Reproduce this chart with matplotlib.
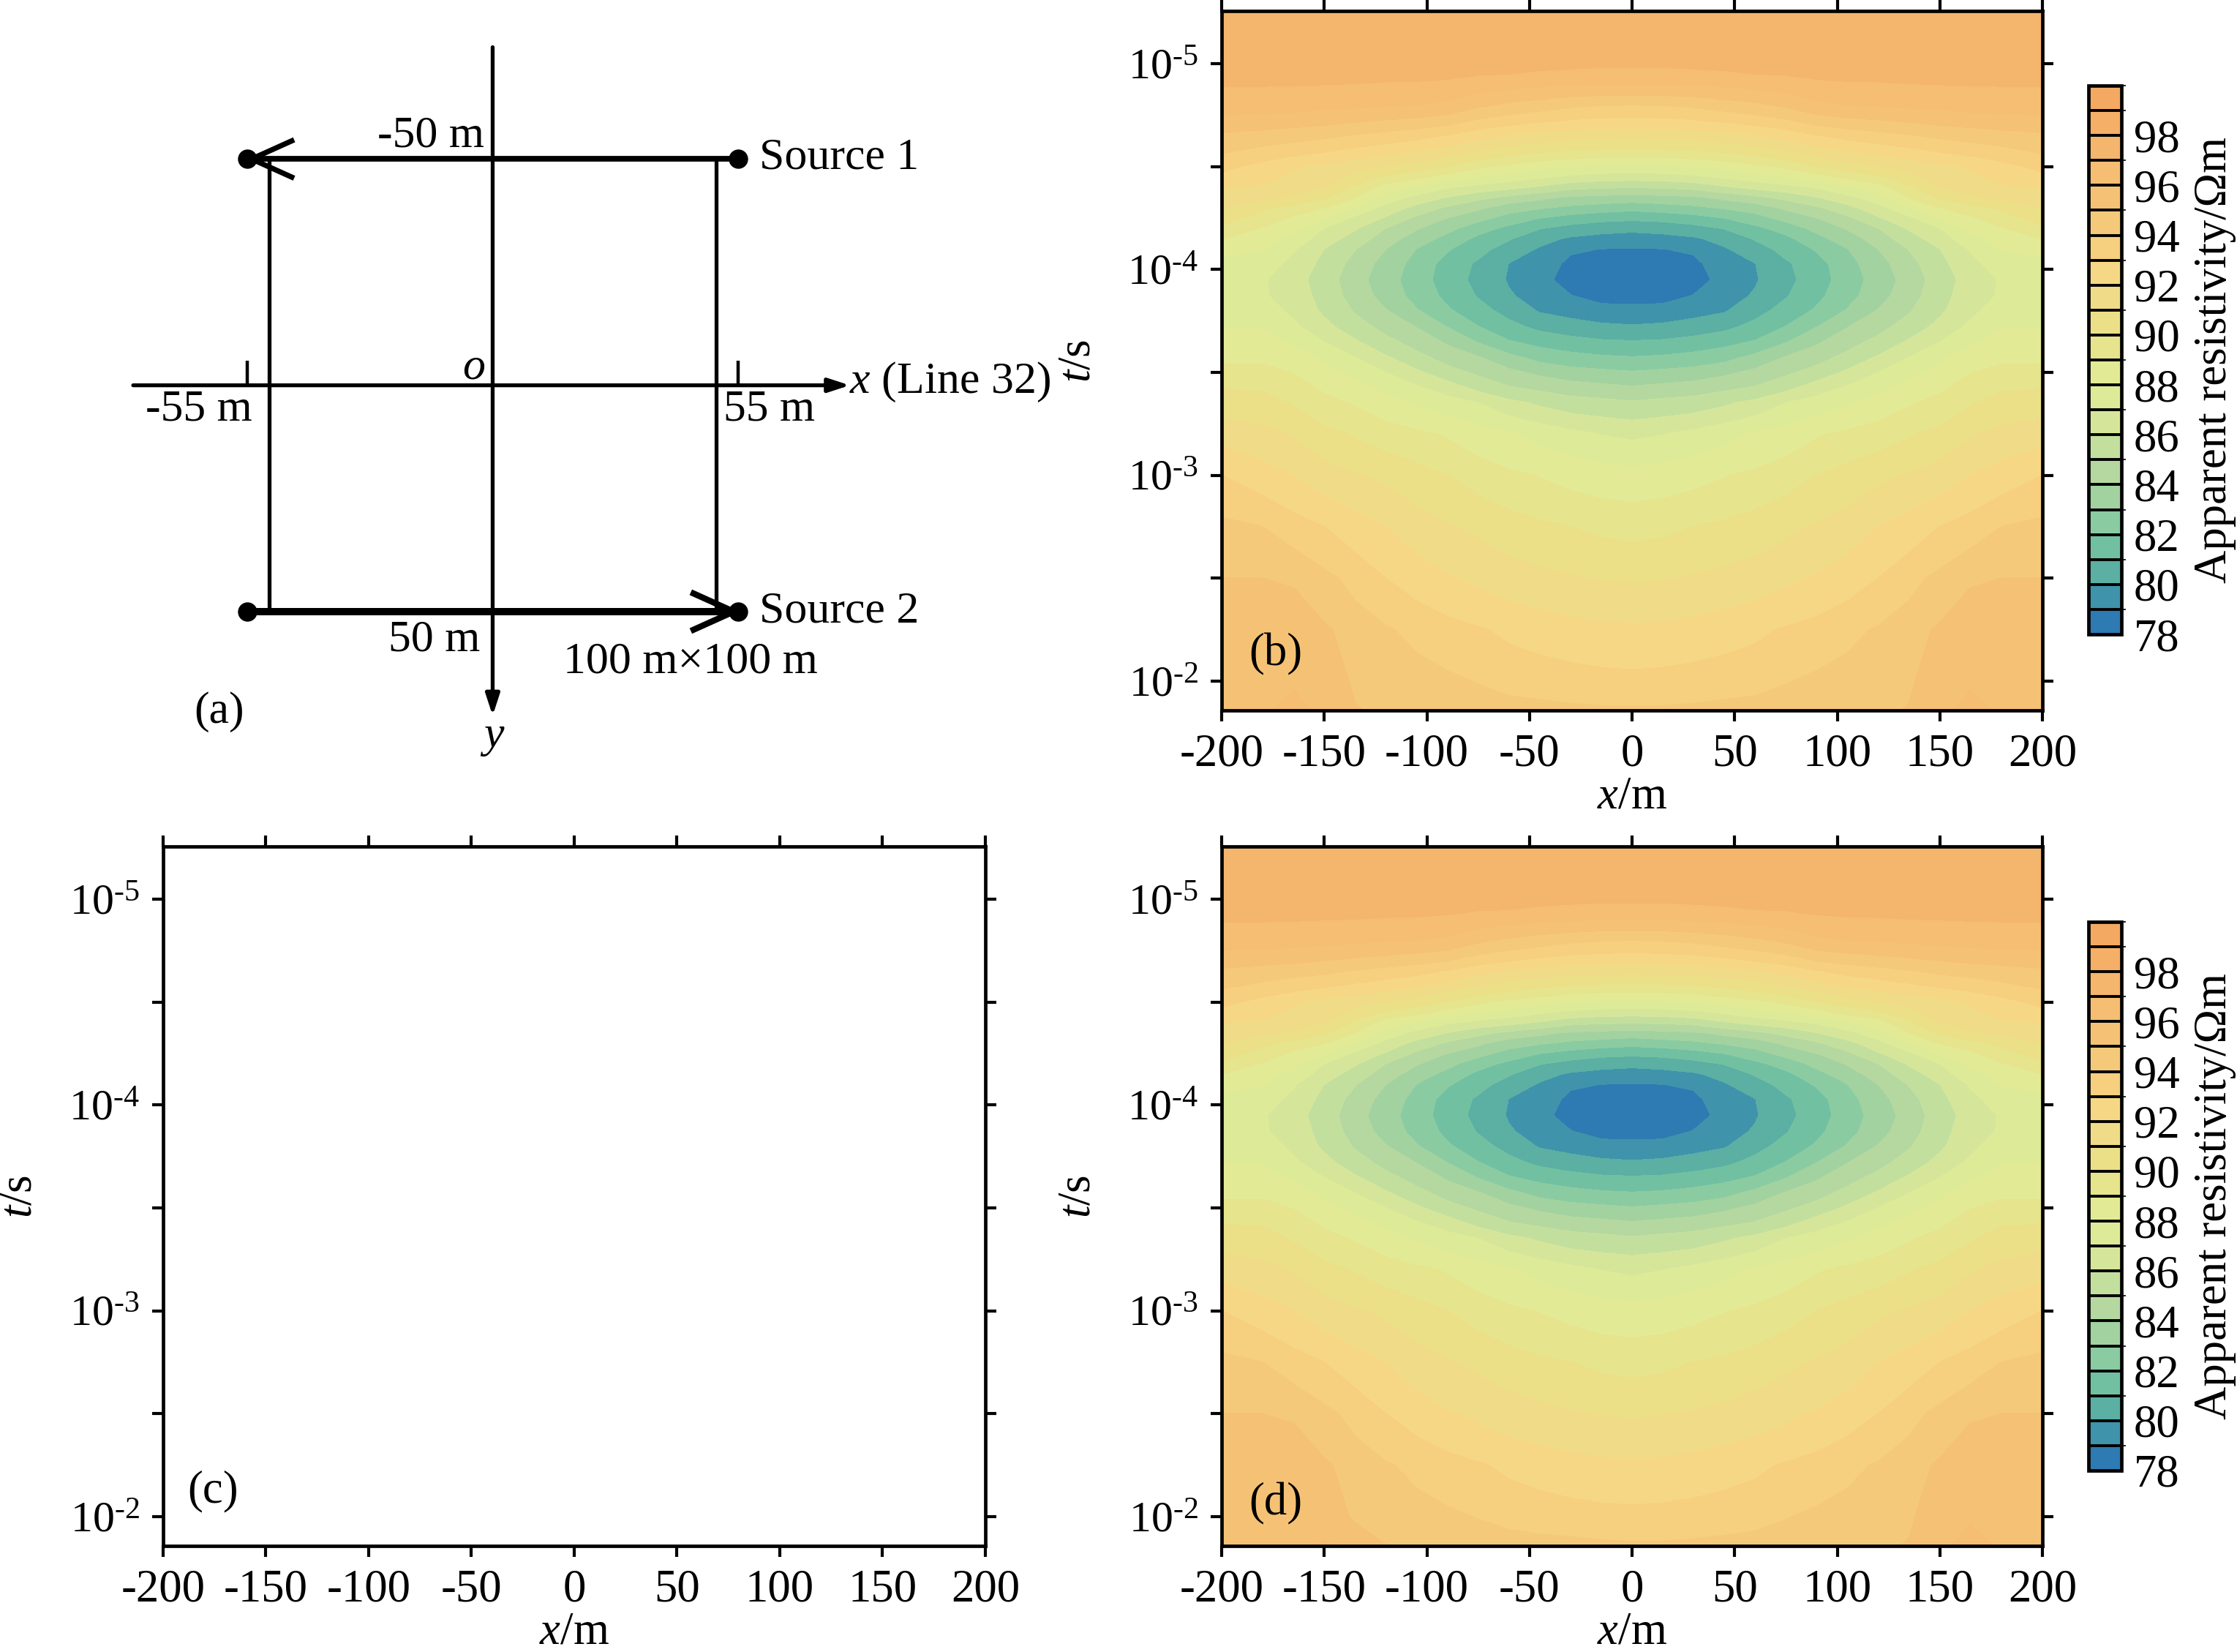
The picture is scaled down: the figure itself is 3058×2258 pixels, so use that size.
import numpy as np
import matplotlib
matplotlib.use("Agg")
import matplotlib.pyplot as plt
from matplotlib.colors import ListedColormap, BoundaryNorm
from matplotlib.ticker import NullLocator

plt.rcParams['font.family'] = ['Liberation Serif', 'DejaVu Serif']
plt.rcParams['mathtext.fontset'] = 'custom'
plt.rcParams['mathtext.rm'] = 'Liberation Serif'
plt.rcParams['mathtext.it'] = 'Liberation Serif:italic'
plt.rcParams['mathtext.bf'] = 'Liberation Serif:bold'

W, H = 3058, 2258
FS = 22.6
FS_A = 22.3

x_half = [0, 15, 30, 45, 60, 75, 90, 105, 120, 135, 150, 165, 180, 200]
log_t = [-5.26, -5.1, -4.95, -4.8, -4.65, -4.5, -4.4, -4.35, -4.3, -4.25, -4.2, -4.15, -4.1, -4.03,
         -3.95, -3.87, -3.8, -3.72, -3.65, -3.57, -3.5, -3.42, -3.35, -3.2, -3.0, -2.75, -2.5,
         -2.25, -2.0, -1.85]
rho_half = [
    [97.8, 97.8, 97.8, 97.8, 97.8, 97.8, 97.8, 97.8, 97.85, 97.85, 97.9, 97.9, 97.9, 97.9],
    [97.6, 97.6, 97.6, 97.65, 97.7, 97.7, 97.75, 97.8, 97.8, 97.8, 97.8, 97.8, 97.8, 97.8],
    [96.8, 96.8, 96.85, 96.9, 97.0, 97.05, 97.2, 97.25, 97.25, 97.3, 97.3, 97.3, 97.3, 97.3],
    [94.0, 94.05, 94.2, 94.5, 94.8, 95.2, 95.8, 96.0, 96.1, 96.2, 96.3, 96.4, 96.45, 96.5],
    [91.2, 91.25, 91.4, 91.6, 91.9, 92.3, 92.9, 93.3, 93.6, 93.9, 94.2, 94.4, 94.6, 94.8],
    [87.7, 87.8, 88.0, 88.3, 88.7, 89.2, 89.9, 90.5, 90.9, 91.3, 91.7, 92.1, 92.6, 93.3],
    [85.04, 85.1, 85.28, 85.83, 86.28, 86.62, 87.1, 87.87, 88.5, 89.8, 91.0, 91.6, 91.9, 92.0],
    [83.54, 83.68, 83.8, 84.23, 84.69, 85.27, 85.92, 86.64, 87.6, 89.0, 90.1, 90.8, 91.2, 91.5],
    [82.3, 82.5, 82.74, 83.1, 83.42, 84.18, 84.82, 85.67, 86.6, 87.87, 89.0, 89.6, 90.2, 91.0],
    [81.2, 81.3, 81.56, 81.98, 82.6, 83.32, 83.97, 84.77, 85.87, 86.75, 88.05, 88.8, 89.6, 90.4],
    [80.27, 80.38, 80.63, 81.04, 81.72, 82.4, 83.28, 84.07, 84.97, 86.1, 86.96, 88.3, 88.9, 89.8],
    [79.5, 79.63, 79.85, 80.33, 81.08, 81.75, 82.67, 83.5, 84.47, 85.56, 86.47, 87.7, 88.35, 89.0],
    [78.93, 78.98, 79.15, 79.89, 80.56, 81.33, 82.1, 82.97, 84.0, 85.04, 85.98, 87.1, 88.05, 88.2],
    [78.43, 78.5, 78.76, 79.57, 79.98, 80.85, 81.6, 82.65, 83.6, 84.65, 85.7, 86.7, 87.5, 87.8],
    [78.1, 78.15, 78.53, 79.36, 79.9, 80.72, 81.5, 82.5, 83.4, 84.4, 85.5, 86.4, 87.1, 87.5],
    [78.68, 78.65, 79.05, 79.6, 80.11, 80.93, 81.75, 82.65, 83.6, 84.6, 85.6, 86.6, 87.1, 87.6],
    [79.26, 79.35, 79.62, 79.9, 80.65, 81.36, 82.14, 83.08, 84.05, 84.9, 85.8, 86.75, 87.5, 87.8],
    [80.12, 80.22, 80.45, 80.75, 81.32, 82.04, 82.98, 83.97, 84.66, 85.45, 86.3, 87.2, 87.95, 88.0],
    [81.05, 81.12, 81.34, 81.65, 82.06, 82.9, 83.83, 84.58, 85.29, 86.1, 86.97, 87.85, 88.3, 88.3],
    [82.08, 82.18, 82.39, 82.67, 83.33, 84.1, 84.61, 85.34, 86.14, 87.01, 87.76, 88.5, 88.8, 88.8],
    [83.07, 83.23, 83.38, 83.77, 84.24, 84.8, 85.39, 86.17, 86.99, 87.7, 88.35, 88.95, 89.3, 89.3],
    [84.2, 84.38, 84.56, 84.84, 85.14, 85.76, 86.58, 87.19, 87.79, 88.4, 88.85, 89.5, 89.9, 90.0],
    [85.15, 85.33, 85.45, 85.84, 86.32, 87.01, 87.43, 87.89, 88.4, 88.9, 89.3, 89.9, 90.4, 90.5],
    [86.8, 86.97, 87.3, 87.7, 88.1, 88.4, 88.9, 89.2, 89.5, 89.9, 90.3, 90.9, 91.3, 91.6],
    [88.4, 88.5, 88.7, 88.95, 89.2, 89.6, 90.0, 90.4, 90.8, 91.1, 91.5, 92.0, 92.5, 93.0],
    [89.7, 89.8, 90.0, 90.2, 90.5, 90.8, 91.1, 91.5, 92.0, 92.5, 93.0, 93.5, 94.0, 94.3],
    [90.9, 90.95, 91.1, 91.3, 91.5, 91.8, 92.1, 92.55, 93.0, 93.65, 94.3, 94.9, 95.0, 95.0],
    [92.2, 92.25, 92.4, 92.6, 92.8, 93.1, 93.4, 93.75, 94.1, 94.6, 95.15, 95.6, 95.5, 95.5],
    [93.3, 93.35, 93.45, 93.55, 93.7, 93.95, 94.2, 94.4, 94.6, 94.9, 95.4, 95.8, 95.7, 95.8],
    [94.2, 94.2, 94.25, 94.35, 94.4, 94.5, 94.65, 94.8, 94.9, 95.05, 95.6, 96.6, 95.8, 95.8],
]
# bottom row of panel (d), left to right: the lobe at +160 m is stronger than the one at -160 m
rho_d_bottom = [95.8, 95.8, 95.7, 96.2, 95.5, 95.05, 94.9, 94.8, 94.65, 94.5, 94.4, 94.35, 94.25, 94.2,
                94.2, 94.25, 94.35, 94.4, 94.5, 94.65, 94.8, 94.9, 95.05, 95.6, 96.8, 95.8, 95.8]

levels = list(range(78, 101))
band_colors = ['#2E7AB2', '#3F93AB', '#5BAFA3', '#72C0A2', '#8ACBA2', '#A2D2A0',
               '#B5D8A0', '#C3DF9E', '#D5E69A', '#DDEA98', '#E3EA96', '#E6E48C',
               '#EBDF88', '#F0DC88', '#F6D785', '#F6CF7F', '#F5C97A', '#F5C275',
               '#F5BE72', '#F4B56C', '#F5AF66', '#F4A962']
cb_ticks = list(range(78, 100, 2))
x_ticks = list(range(-200, 201, 50))
t_major = [-5, -4, -3, -2]
t_minor = [-4.5, -3.5, -2.5]
t_lim = (-5.256, -1.858)


def pos(x0, x1, y0, y1):
    return [x0 / W, 1 - y1 / H, (x1 - x0) / W, (y1 - y0) / H]


fig = plt.figure(figsize=(W / 200, H / 200), dpi=200)

x_full = np.array([-v for v in x_half[:0:-1]] + x_half, dtype=float)
half = np.array(rho_half)
rho_b = np.hstack([half[:, :0:-1], half])
rho_d = rho_b.copy()
rho_d[-1] = rho_d_bottom
T = 10.0 ** np.array(log_t)
cmap = ListedColormap(band_colors)
norm = BoundaryNorm(levels, cmap.N)


def style(ax):
    ax.set_yscale('log')
    ax.set_xlim(-200, 200)
    ax.set_ylim(10.0 ** t_lim[1], 10.0 ** t_lim[0])
    ax.set_xticks(x_ticks)
    ax.set_xticklabels([str(v) for v in x_ticks])
    ticks = sorted(t_major + t_minor)
    ax.set_yticks([10.0 ** v for v in ticks])
    ax.set_yticklabels([('10$^{\\mathregular{\\text{-}%d}}$' % abs(v)) if v in t_major else '' for v in ticks])
    ax.yaxis.set_minor_locator(NullLocator())
    ax.tick_params(axis='both', which='major', direction='out', length=5.5, width=1.5,
                   top=True, right=True, labelsize=FS, pad=6)
    ax.tick_params(axis='y', labelsize=FS - 1)
    for s in ax.spines.values():
        s.set_linewidth(1.7)
    ax.set_xlabel('$\\mathit{x}$/m', fontsize=FS, labelpad=0)
    ax.set_ylabel('$\\mathit{t}$/s', fontsize=FS)
    ax.yaxis.set_label_coords(-0.148, 0.5)
    ax.set_zorder(3)


def heat(ax_pos, cb_pos, data, label, label_y):
    ax = fig.add_axes(pos(*ax_pos))
    cs = ax.contourf(x_full, T, data, levels=levels, cmap=cmap, norm=norm)
    cs.set_edgecolor('face')
    cs.set_linewidth(0.3)
    style(ax)
    ax.text(0.033, label_y, label, transform=ax.transAxes, fontsize=FS, va='center', ha='left')
    cax = fig.add_axes(pos(*cb_pos))
    cb = fig.colorbar(cs, cax=cax, ticks=cb_ticks, drawedges=True)
    cb.dividers.set_color('black')
    cb.dividers.set_linewidth(1.4)
    cb.outline.set_linewidth(1.7)
    cb.ax.tick_params(length=0, labelsize=FS, pad=6)
    cb.ax.set_yticklabels([str(v) for v in cb_ticks])
    cb.set_label('Apparent resistivity/Ωm', fontsize=FS, labelpad=7)
    return ax


heat((1670, 2792, 15, 971), (2855, 2900, 117, 867), rho_b, '(b)', 0.08)
heat((1670, 2792, 1157, 2113), (2855, 2900, 1260, 2010), rho_d, '(d)', 0.06)

axc = fig.add_axes(pos(223, 1347, 1157, 2113))
style(axc)
axc.text(0.03, 0.078, '(c)', transform=axc.transAxes, fontsize=FS, va='center', ha='left')

# panel (a): survey layout, axes in metres
S = W / 1562
axa = fig.add_axes([0, 1 - 1100 / H, 1480 / W, 1100 / H])
sx, sy = 3.118, 3.16
cx, cy = 344, 269
axa.set_xlim((0 - cx) / sx, (1480 / S - cx) / sx)
axa.set_ylim((1100 / S - cy) / sy, (0 - cy) / sy)
axa.axis('off')

src_half = 55
wire_half = 50
k = dict(color='black', solid_capstyle='butt')
axa.plot([-wire_half, -wire_half], [-wire_half, wire_half], lw=1.9, **k)
axa.plot([wire_half, wire_half], [-wire_half, wire_half], lw=1.9, **k)
axa.plot([-src_half, src_half], [-wire_half, -wire_half], lw=2.8, **k)
axa.plot([-src_half, src_half], [wire_half, wire_half], lw=3.6, **k)
axa.plot([-src_half, -src_half, src_half, src_half], [-wire_half, wire_half, -wire_half, wire_half],
         'o', color='black', ms=8.5, ls='none')
axa.plot([-src_half, -src_half], [-5.5, 0], lw=1.6, **k)
axa.plot([src_half, src_half], [-5.5, 0], lw=1.6, **k)
axa.plot([-45, -54, -45], [-54, -50, -46], color='black', lw=2.6, solid_joinstyle='miter')
axa.plot([45, 54, 45], [46, 50, 54], color='black', lw=3.0, solid_joinstyle='miter')
axa.annotate('', xy=(80, 0), xytext=(-80.5, 0),
             arrowprops=dict(arrowstyle='-|>,head_length=0.4,head_width=0.13', color='black', lw=1.9,
                             shrinkA=0, shrinkB=0, mutation_scale=22))
axa.annotate('', xy=(0, 73), xytext=(0, -74.7),
             arrowprops=dict(arrowstyle='-|>,head_length=0.4,head_width=0.13', color='black', lw=1.9,
                             shrinkA=0, shrinkB=0, mutation_scale=22))


def lab(px, py, s, ha='center'):
    axa.text((px - cx) / sx, (py - cy) / sy, s, fontsize=FS_A, ha=ha, va='center')


lab(301, 95, '-50 m')
lab(530, 110, 'Source 1', 'left')
lab(331, 257, '$\\mathit{o}$')
lab(593, 267, '$\\mathit{x}$ (Line 32)', 'left')
lab(139, 286, '-55 m')
lab(537, 286, '55 m')
lab(530, 427, 'Source 2', 'left')
lab(303, 447, '50 m')
lab(482, 462, '100 m×100 m')
lab(153, 497, '(a)')
lab(344, 515, '$\\mathit{y}$')

fig.savefig('out.png', dpi=200, facecolor='white')
